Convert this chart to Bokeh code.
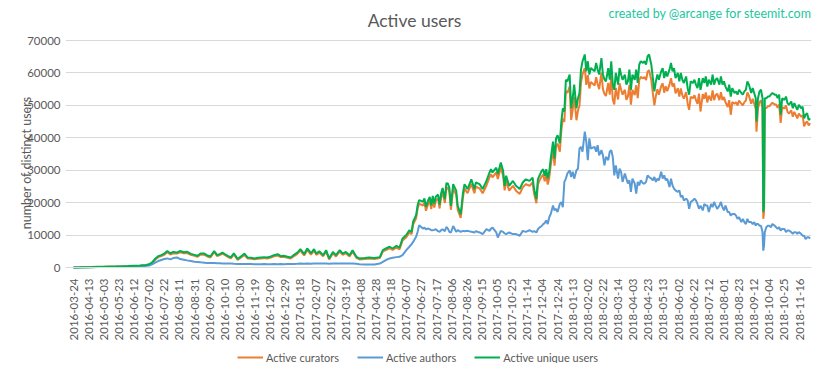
import math
from bokeh.plotting import figure
from bokeh.models import Range1d, FixedTicker, Label, Legend, LegendItem, BasicTickFormatter
from bokeh.embed import file_html
from bokeh.resources import INLINE

# ---- data (day index since 2016-03-24) ----
tick_labels = [
    "2016-03-24", "2016-04-13", "2016-05-03", "2016-05-23", "2016-06-12", "2016-07-02",
    "2016-07-22", "2016-08-11", "2016-08-31", "2016-09-20", "2016-10-10", "2016-10-30",
    "2016-11-19", "2016-12-09", "2016-12-29", "2017-01-18", "2017-02-07", "2017-02-27",
    "2017-03-19", "2017-04-08", "2017-04-28", "2017-05-18", "2017-06-07", "2017-06-27",
    "2017-07-17", "2017-08-06", "2017-08-26", "2017-09-15", "2017-10-05", "2017-10-25",
    "2017-11-14", "2017-12-04", "2017-12-24", "2018-01-13", "2018-02-02", "2018-02-22",
    "2018-03-14", "2018-04-03", "2018-04-23", "2018-05-13", "2018-06-02", "2018-06-22",
    "2018-07-12", "2018-08-01", "2018-08-23", "2018-09-12", "2018-10-04", "2018-10-25",
    "2018-11-16",
]

day = [
    0, 8, 16, 24, 32, 40, 48, 56, 64, 72,
    80, 88, 96, 100, 104, 108, 112, 116, 120, 124,
    128, 132, 137, 141, 146, 150, 155, 160, 164, 168,
    173, 177, 181, 186, 190, 194, 197, 201, 204, 208,
    212, 217, 222, 226, 230, 235, 239, 244, 248, 252,
    256, 261, 265, 270, 274, 278, 283, 287, 291, 296,
    300, 305, 309, 314, 318, 321, 325, 330, 334, 338,
    343, 347, 352, 356, 360, 365, 369, 374, 378, 385,
    391, 398, 405, 409, 413, 418, 422, 427, 431, 435,
    440, 444, 447, 449, 453, 455, 457, 462, 464, 466,
    469, 471, 473, 475, 477, 479, 482, 484, 486, 488,
    491, 493, 495, 497, 499, 502, 506, 508, 512, 515,
    517, 521, 526, 530, 532, 537, 541, 546, 550, 552,
    554, 559, 561, 565, 568, 570, 572, 576, 581, 585,
    590, 594, 598, 603, 607, 609, 612, 614, 616, 619,
    621, 623, 625, 627, 629, 631, 634, 636, 638, 640,
    643, 645, 647, 649, 651, 653, 656, 658, 660, 662,
    665, 667, 669, 671, 673, 676, 678, 680, 682, 684,
    689, 691, 693, 695, 698, 700, 702, 704, 707, 709,
    711, 713, 715, 717, 720, 722, 724, 726, 729, 731,
    733, 735, 737, 739, 742, 744, 746, 748, 750, 753,
    755, 757, 759, 761, 764, 766, 768, 770, 772, 774,
    777, 779, 781, 783, 785, 788, 790, 792, 794, 796,
    799, 801, 803, 805, 807, 810, 812, 814, 816, 819,
    821, 823, 825, 827, 829, 832, 834, 836, 838, 840,
    843, 845, 847, 849, 851, 854, 856, 858, 860, 862,
    865, 867, 869, 871, 874, 876, 878, 880, 883, 885,
    887, 889, 891, 893, 896, 898, 900, 902, 903, 905,
    907, 909, 911, 912, 913, 914, 916, 918, 920, 922,
    924, 927, 929, 931, 933, 935, 937, 940, 942, 944,
    946, 949, 951, 953, 955, 957, 959, 962, 964, 966,
    968, 970, 972, 974,
]

unique_users = [
    30, 50, 80, 120, 200, 230, 280, 320, 380, 450,
    550, 620, 800, 1000, 1600, 2700, 3500, 3800, 4300, 5100,
    4400, 4800, 4600, 5100, 4700, 4900, 4200, 3900, 3600, 4300,
    4300, 3700, 3400, 5100, 3800, 4200, 4600, 4000, 3600, 3100,
    4400, 2600, 3500, 4300, 3100, 3000, 2800, 3000, 3100, 3200,
    3100, 3400, 3800, 4100, 3500, 3600, 3300, 3100, 3800, 4600,
    5650, 4100, 5860, 4400, 5650, 4300, 5000, 3800, 5350, 2800,
    4800, 3800, 5350, 4300, 4800, 3800, 5350, 3300, 2800, 2900,
    3100, 2900, 3200, 5350, 5860, 6400, 5860, 6700, 6100, 8950,
    10000, 11500, 11000, 14100, 16150, 19200, 20800, 20300, 21300, 18700,
    20800, 21800, 19200, 22100, 19700, 21800, 22500, 19400, 22800, 24500,
    21100, 26000, 25900, 24500, 19000, 25700, 23700, 19000, 16400, 23100,
    25700, 24200, 27200, 24200, 26200, 25700, 24200, 26700, 29300, 30300,
    29300, 30800, 28800, 32400, 29800, 25200, 28300, 25200, 26700, 25200,
    24200, 26200, 27200, 26700, 27700, 24200, 21100, 27200, 28300, 29800,
    30300, 28300, 30300, 27400, 29500, 33600, 38800, 33600, 39800, 40800,
    38300, 45000, 49100, 48100, 57900, 57400, 59500, 49100, 52200, 56400,
    49100, 52200, 53800, 61000, 63600, 65700, 60500, 63600, 59500, 61500,
    60500, 63100, 61000, 59500, 64600, 59500, 58000, 57400, 61500, 57900,
    63600, 56400, 54800, 60000, 56400, 61500, 59500, 57900, 59500, 56400,
    57400, 61000, 54800, 59500, 57900, 61000, 56900, 62600, 63600, 63100,
    63600, 62600, 65100, 65700, 62500, 58400, 54300, 57400, 59500, 57900,
    60500, 61500, 58400, 60500, 58900, 61000, 63100, 60500, 61500, 58400,
    60000, 57400, 60000, 57900, 56900, 58900, 55300, 53300, 57400, 56900,
    57900, 56400, 55300, 58400, 54800, 58400, 56900, 58900, 55800, 57900,
    56400, 59500, 56400, 57900, 58400, 56400, 58900, 56400, 57400, 55800,
    54300, 56400, 52700, 55300, 53800, 54300, 53300, 54800, 53800, 53300,
    54300, 54800, 57400, 56400, 53800, 55300, 53800, 52200, 45000, 52200,
    54300, 54800, 52200, 17100, 19100, 52200, 52200, 52700, 52700, 53300,
    53800, 53300, 53300, 52200, 53300, 47100, 52200, 51700, 52700, 50700,
    50200, 51200, 49100, 50700, 49600, 48600, 50200, 49100, 49600, 46000,
    47100, 47600, 45500, 46000,
]

curators = [
    25, 40, 70, 100, 170, 200, 240, 270, 320, 380,
    460, 520, 680, 850, 1400, 2400, 3200, 3500, 3900, 4700,
    4000, 4400, 4300, 4700, 4400, 4500, 3900, 3600, 3300, 4000,
    3900, 3400, 3100, 4700, 3500, 3900, 4300, 3700, 3300, 2800,
    4000, 2350, 3200, 3900, 2800, 2700, 2550, 2700, 2800, 2900,
    2800, 3100, 3450, 3700, 3200, 3300, 3000, 2800, 3400, 4200,
    5200, 3700, 5400, 4000, 5200, 3900, 4600, 3450, 4900, 2500,
    4400, 3400, 4900, 3900, 4400, 3400, 4900, 3000, 2500, 2600,
    2800, 2600, 2900, 4900, 5400, 5900, 5400, 6200, 5600, 8300,
    9300, 10800, 10300, 13200, 15200, 18200, 19700, 19100, 20100, 17500,
    19600, 20600, 18000, 20900, 18500, 20600, 21300, 18200, 21600, 23200,
    19900, 24700, 24600, 23200, 17800, 24400, 22400, 17800, 15300, 21800,
    24400, 22900, 25800, 22900, 24900, 24400, 22900, 25300, 27800, 28800,
    27800, 29300, 27300, 30800, 28300, 23800, 26800, 23700, 25200, 23700,
    22700, 24700, 25700, 25200, 26200, 22700, 19800, 25600, 26700, 28100,
    28600, 26600, 28500, 25600, 27600, 31500, 36500, 31400, 37300, 38200,
    35700, 42200, 46000, 44900, 54500, 53800, 55800, 45500, 48600, 52600,
    45400, 48400, 49900, 57000, 59600, 61500, 56300, 59300, 55200, 57200,
    56100, 58700, 56600, 55000, 60100, 55000, 53500, 52900, 56900, 53300,
    58900, 51800, 50300, 55400, 51800, 56800, 54900, 53300, 54800, 51700,
    52700, 56300, 50200, 54800, 53200, 56200, 52200, 57800, 58800, 58300,
    58800, 57800, 60300, 60900, 57700, 53700, 50000, 52900, 55000, 53300,
    55900, 56800, 53900, 55900, 54400, 56400, 58400, 55800, 56800, 53700,
    55300, 52700, 55200, 53100, 52100, 54100, 50600, 48600, 52600, 52200,
    53100, 51600, 50500, 53600, 48100, 53500, 52000, 54000, 50900, 53000,
    51500, 54600, 51600, 53100, 53600, 51600, 54100, 51600, 52600, 51000,
    49500, 51600, 47100, 51000, 50500, 51000, 50000, 51500, 50500, 50000,
    51000, 51500, 54000, 53000, 50500, 52000, 50500, 49000, 41900, 49000,
    51000, 51500, 49000, 15000, 17000, 49200, 49200, 49700, 49700, 50300,
    50800, 50300, 50300, 49200, 50300, 44600, 49500, 49000, 50000, 48000,
    47500, 48500, 46500, 48000, 47000, 46000, 47500, 46500, 47000, 43500,
    44600, 45000, 43800, 44500,
]

authors = [
    20, 30, 50, 80, 120, 140, 170, 200, 240, 290,
    350, 400, 500, 620, 950, 1500, 2000, 2300, 2600, 2800,
    2500, 2900, 3100, 2600, 2400, 2200, 2000, 1800, 1700, 1600,
    1500, 1400, 1400, 1350, 1300, 1300, 1250, 1250, 1200, 1200,
    1150, 1100, 1100, 1100, 1050, 1050, 1000, 1000, 1000, 1050,
    1000, 1000, 1050, 1000, 1050, 1000, 1100, 1050, 1100, 1150,
    1200, 1150, 1200, 1150, 1200, 1200, 1200, 1200, 1200, 1150,
    1200, 1200, 1200, 1200, 1200, 1250, 1250, 1150, 1000, 950,
    900, 950, 1200, 1750, 2300, 2800, 3000, 3200, 3300, 3800,
    5350, 6400, 7200, 7900, 9500, 11000, 13000, 12000, 12300, 11800,
    12000, 11800, 11500, 11500, 11600, 11800, 11200, 11000, 11500, 11800,
    11200, 12500, 12000, 11000, 10800, 12800, 11000, 11500, 11000, 11300,
    11200, 11300, 11000, 10800, 11200, 10800, 10300, 11800, 11300, 12000,
    12300, 10800, 9250, 11300, 11000, 10500, 10300, 10800, 10300, 10300,
    9800, 11300, 11000, 11500, 11000, 11200, 10800, 11800, 12300, 12800,
    13400, 13700, 14500, 13400, 15500, 16500, 19100, 17600, 18100, 17100,
    19600, 20200, 18600, 26400, 27400, 29000, 30000, 27900, 29500, 27400,
    30000, 30500, 36700, 37200, 35700, 41900, 38800, 33100, 39800, 36700,
    37200, 35700, 37700, 34600, 36200, 34600, 31500, 34100, 33100, 35700,
    36200, 34100, 28400, 31500, 27400, 30500, 29500, 26400, 29000, 27400,
    25900, 26900, 23300, 27400, 25900, 22800, 26400, 25300, 26900, 25900,
    25900, 26400, 28400, 27900, 27400, 26900, 27900, 26400, 27400, 26900,
    29500, 27400, 28400, 26900, 27400, 24800, 27400, 25300, 24300, 23800,
    23300, 23800, 21700, 22200, 20700, 21200, 20700, 18100, 20200, 20700,
    21200, 20700, 19600, 18100, 19100, 17600, 19600, 19100, 19100, 17100,
    19600, 18600, 20200, 19100, 18100, 19100, 20200, 18600, 17600, 19100,
    17100, 17100, 16000, 16500, 16500, 16000, 15000, 15500, 14000, 15000,
    14000, 13400, 15000, 14000, 14000, 13400, 14000, 12900, 13400, 13400,
    12900, 12900, 10900, 5200, 6700, 10900, 12400, 12900, 12900, 12400,
    13400, 12900, 12400, 11900, 12400, 11400, 11900, 11900, 10900, 11400,
    11400, 10900, 10400, 10900, 10900, 10400, 10900, 10400, 9800, 9800,
    8800, 9300, 9300, 9000,
]

y_ticks = [0, 10000, 20000, 30000, 40000, 50000, 60000, 70000]

assert len(day) == len(unique_users) == len(curators) == len(authors)

FONT = "Lato"
GREY = "#595959"

# The frame covers the whole canvas height; the x axis is pinned at y = 0
# (fixed_location), 96 px above the canvas bottom, and 70000 lies 227 px above it.
FRAME_H = 363
PX_PER_UNIT = 227.0 / 70000
Y_BOTTOM = -96 / PX_PER_UNIT
Y_TOP = (FRAME_H - 96) / PX_PER_UNIT

# 0.7563 px per day; the frame starts 8 px before day 0 so the first date label is not cut
PX_PER_DAY = 740 / 978.4
FRAME_W = 746
X_START = -8.0 / PX_PER_DAY
X_END = X_START + FRAME_W / PX_PER_DAY

p = figure(frame_width=FRAME_W, frame_height=FRAME_H, output_backend="svg", toolbar_location=None,
           x_range=Range1d(X_START, X_END), y_range=Range1d(Y_BOTTOM, Y_TOP),
           min_border_left=65, min_border_right=6, min_border_top=0, min_border_bottom=0)
p.background_fill_color = "white"
p.border_fill_color = "white"
p.outline_line_color = None

r_cur = p.line(day, curators, line_color="#ED7D31", line_width=2)
r_aut = p.line(day, authors, line_color="#5B9BD5", line_width=2)
r_uni = p.line(day, unique_users, line_color="#00B050", line_width=2)

# x axis, pinned at y = 0
tick_pos = [20 * i for i in range(len(tick_labels))]
p.xaxis.fixed_location = 0
p.xaxis.ticker = FixedTicker(ticks=tick_pos)
p.xaxis.major_label_overrides = {pos: lab for pos, lab in zip(tick_pos, tick_labels)}
p.xaxis.major_label_orientation = math.pi / 2
p.xaxis.major_label_text_font = FONT
p.xaxis.major_label_text_font_size = "11.5px"
p.xaxis.major_label_text_color = GREY
p.xaxis.major_label_standoff = 11
p.xaxis.major_tick_out = 0
p.xaxis.major_tick_in = 0
p.xaxis.minor_tick_out = 0
p.xaxis.minor_tick_in = 0
p.xaxis.major_tick_line_color = None
p.xaxis.minor_tick_line_color = None
p.xaxis.axis_line_color = "#D9D9D9"
p.xgrid.grid_line_color = None

# y axis
p.yaxis.ticker = FixedTicker(ticks=y_ticks)
p.yaxis.formatter = BasicTickFormatter(use_scientific=False)
p.yaxis.major_label_text_font = FONT
p.yaxis.major_label_text_font_size = "11.5px"
p.yaxis.major_label_text_color = GREY
p.yaxis.major_label_standoff = 5
p.yaxis.major_tick_out = 0
p.yaxis.major_tick_in = 0
p.yaxis.minor_tick_out = 0
p.yaxis.minor_tick_in = 0
p.yaxis.major_tick_line_color = None
p.yaxis.minor_tick_line_color = None
p.yaxis.axis_line_color = None
# leading no-break spaces lift the visible words onto the 0-70000 span
p.yaxis.axis_label = "\u00a0" * 12 + "number of distinct users"
p.yaxis.axis_label_text_font = FONT
p.yaxis.axis_label_text_font_size = "12.5px"
p.yaxis.axis_label_text_font_style = "normal"
p.yaxis.axis_label_text_color = GREY
p.yaxis.axis_label_standoff = -10
p.ygrid.grid_line_color = "#D9D9D9"
p.ygrid.grid_line_width = 1

# titles (screen units measured from the frame's bottom-left corner)
p.add_layout(Label(x=349, y=FRAME_H - 20, x_units="screen", y_units="screen", text="Active users",
                   text_align="center", text_baseline="middle", text_font=FONT,
                   text_font_size="17.5px", text_color=GREY))
p.add_layout(Label(x=746, y=FRAME_H - 13, x_units="screen", y_units="screen",
                   text="created by @arcange for steemit.com",
                   text_align="right", text_baseline="middle", text_font=FONT,
                   text_font_size="12.5px", text_color="#1CC7A0"))

legend = Legend(items=[LegendItem(label="Active curators", renderers=[r_cur]),
                       LegendItem(label="Active authors", renderers=[r_aut]),
                       LegendItem(label="Active unique users", renderers=[r_uni])],
                orientation="horizontal", location=(172, -4))
legend.padding = 0
legend.margin = 0
legend.spacing = 18
legend.glyph_width = 26
legend.label_standoff = 3
legend.label_text_font = FONT
legend.label_text_font_size = "11px"
legend.label_text_color = GREY
legend.border_line_color = None
legend.background_fill_alpha = 0
p.add_layout(legend)

open("out.html", "w").write(file_html(p, INLINE))
